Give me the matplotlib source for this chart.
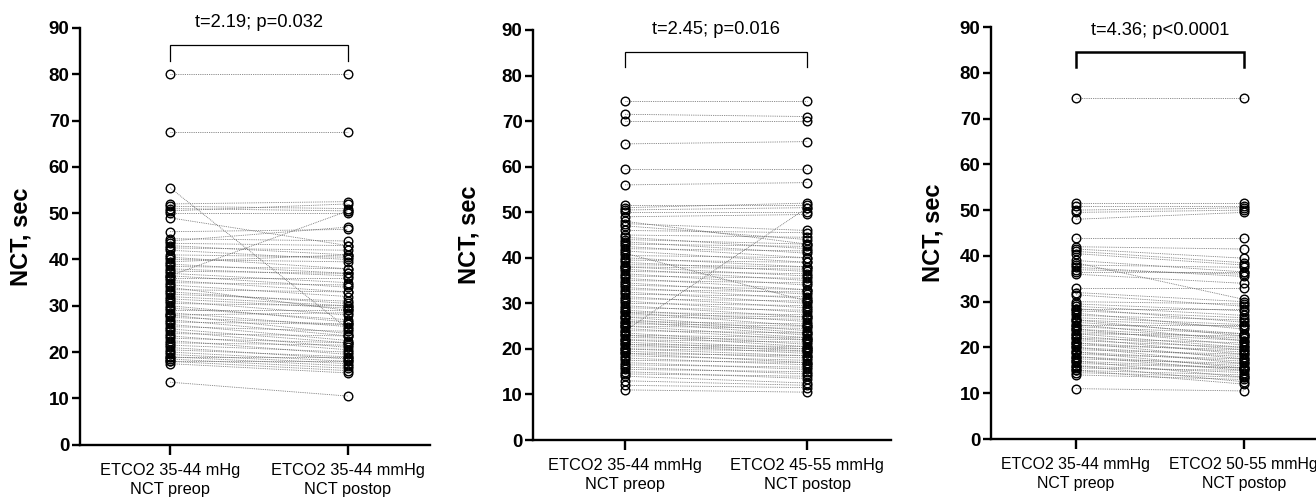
import numpy as np
import matplotlib
matplotlib.use("Agg")
import matplotlib.pyplot as plt

plt.rcParams['font.family'] = ['Liberation Sans', 'DejaVu Sans']

# ---------------- data ----------------
labels1 = ["ETCO2 35-44 mHg\nNCT preop", "ETCO2 35-44 mmHg\nNCT postop"]
labels2 = ["ETCO2 35-44 mmHg\nNCT preop", "ETCO2 45-55 mmHg\nNCT postop"]
labels3 = ["ETCO2 35-44 mmHg\nNCT preop", "ETCO2 50-55 mmHg\nNCT postop"]
titles = ["t=2.19; p=0.032", "t=2.45; p=0.016", "t=4.36; p<0.0001"]

pre1 = [80, 67.5, 55.5, 52, 51.5, 51, 50.5, 50, 49, 46, 44.5, 44, 43.5, 43, 42.5, 42,
        41, 40.5, 40, 39.5, 39, 38.5, 38, 37.5, 37, 36.5, 36.5, 36, 35.5, 35, 34.5, 34,
        33.5, 33, 32.5, 32, 31.5, 31, 30.5, 30, 29.5, 29, 28.5, 28, 28, 27.5, 27, 26.5,
        26, 25.5, 25, 24.5, 24, 23.5, 23, 22.5, 22, 21.5, 21, 20.5, 20, 19.5, 19, 19,
        18.5, 18, 18, 17.5, 13.5]
post1 = [80, 67.5, 25, 52.5, 51, 50.5, 52, 50, 43, 46.5, 44, 47, 43, 41, 42, 40,
         40.5, 38, 39.5, 41, 37, 38, 36.5, 37, 35, 50.5, 34, 36, 33, 34.5, 32, 29,
         33, 30.5, 31, 30, 29.5, 28, 30, 26.5, 27, 29, 25.5, 28.5, 24, 26, 23.5, 26,
         22.5, 24.5, 22, 21, 23.5, 20.5, 22, 19.5, 21.5, 20, 18.5, 19, 18, 17.5, 19, 17,
         16.5, 18, 16, 15.5, 10.5]

pre2 = [74.5, 71.5, 70, 65, 59.5, 56, 51.5, 51, 50.5, 50, 49, 48, 47.5, 47, 46, 45,
        44.5, 44, 43.5, 43, 42.5, 42, 41.5, 41, 40.5, 40, 39.5, 39, 38.5, 38, 38, 37.5,
        37, 36.5, 36, 35.5, 35, 34.5, 34, 33.5, 33, 32.5, 32, 31.5, 31, 30.5, 30, 29.5,
        29, 28.5, 28, 28, 27.5, 27, 27, 26.5, 26, 26, 25.5, 25, 25, 24.5, 24, 24,
        23.5, 23, 23, 22.5, 22, 22, 21.5, 21, 21, 20.5, 20, 20, 19.5, 19, 19, 18.5,
        18, 17.5, 17, 16.5, 16, 15.5, 15, 14.5, 14, 13, 12, 11]
post2 = [74.5, 71, 70, 65.5, 59.5, 56.5, 51.5, 52, 51, 50, 49.5, 43, 46, 44, 45.5, 44.5,
         42, 43, 41, 42.5, 40, 41.5, 39, 30.5, 40, 38, 39, 37, 38, 36, 37.5, 35,
         36.5, 34, 35.5, 33, 34.5, 32, 33, 31, 32.5, 30, 31.5, 29, 30.5, 28, 29.5, 27,
         28.5, 26, 27.5, 25, 27, 24, 26.5, 23.5, 25.5, 23, 25, 22.5, 24.5, 22, 51, 23.5,
         21, 22.5, 20.5, 22, 20, 21.5, 19.5, 20.5, 19, 20, 18.5, 19.5, 18, 18.5, 17, 17.5,
         16.5, 17, 15.5, 16, 14.5, 15, 13.5, 14, 12.5, 12, 11.5, 10.5]

pre3 = [74.5, 51.5, 51, 50, 49.5, 48, 44, 42, 41.5, 41, 40.5, 39, 38.5, 38, 37.5, 37,
        36.5, 36, 33, 32, 31.5, 30, 29.5, 29, 28.5, 28.5, 28, 27.5, 27, 26.5, 26, 26,
        25.5, 25, 25, 24.5, 24, 24, 23.5, 23, 23, 22.5, 22, 22, 21.5, 21, 21, 20.5,
        20, 20, 19.5, 19, 19, 18.5, 18, 18, 17.5, 17, 17, 16.5, 16, 16, 15.5, 15,
        15, 14.5, 14, 11]
post3 = [74.5, 51.5, 51, 50.5, 50, 49.5, 44, 41.5, 39.5, 38.5, 38, 36.5, 30.5, 37.5, 35.5, 36,
         36.5, 34, 33, 30, 29, 29.5, 28, 27, 28.5, 25.5, 26.5, 24, 26, 25, 24.5, 22.5,
         23, 25, 21.5, 23, 20.5, 22, 21.5, 20, 22.5, 19.5, 21, 18.5, 20, 19, 17.5, 19.5,
         18, 16.5, 18.5, 17, 15.5, 17.5, 16, 15, 16.5, 15.5, 13.5, 15.5, 14.5, 12.5, 15, 14,
         12, 13.5, 13, 10.5]

yticks = list(range(0, 91, 10))

# ---------------- layout ----------------
W, H = 1316, 498
fig = plt.figure(figsize=(W / 100, H / 100), dpi=100)

panels = [
    dict(l=80, r=430, t=28, b=444.7, xlim=(-0.506, 1.461), bar=86.3, leg=82.9, ty=91.2,
         blw=0.9, lab=-0.137, pre=pre1, post=post1, xl=labels1, title=titles[0], xfs=11.8),
    dict(l=533, r=891, t=30, b=440, xlim=(-0.505, 1.46), bar=85.1, leg=81.8, ty=90.0,
         blw=0.9, lab=-0.148, pre=pre2, post=post2, xl=labels2, title=titles[1], xfs=11.8),
    dict(l=991, r=1316, t=27, b=439, xlim=(-0.506, 1.43), bar=84.5, leg=81.2, ty=89.3,
         blw=1.8, lab=-0.142, pre=pre3, post=post3, xl=labels3, title=titles[2], xfs=11.4),
]

for p in panels:
    ax = fig.add_axes([p['l'] / W, 1 - p['b'] / H, (p['r'] - p['l']) / W, (p['b'] - p['t']) / H])
    pre = np.asarray(p['pre'], float)
    post = np.asarray(p['post'], float)
    xs = np.array([0, 1])
    ax.plot(xs, np.vstack([pre, post]), color='0.4', lw=0.6,
            linestyle=(0, (1.0, 1.2)), zorder=2)
    ax.plot(np.zeros_like(pre), pre, 'o', ms=6.2, mfc='none', mec='black', mew=1.0, zorder=3)
    ax.plot(np.ones_like(post), post, 'o', ms=6.2, mfc='none', mec='black', mew=1.0, zorder=3)

    ax.set_xlim(*p['xlim'])
    ax.set_ylim(0, 90)
    ax.set_yticks(yticks)
    ax.set_yticklabels([str(v) for v in yticks], fontsize=13.5, fontweight='bold')
    ax.set_xticks([0, 1])
    ax.set_xticklabels(p['xl'], fontsize=p['xfs'], linespacing=1.35)
    ax.spines['top'].set_visible(False)
    ax.spines['right'].set_visible(False)
    for s in ('left', 'bottom'):
        ax.spines[s].set_linewidth(1.7)
    ax.tick_params(axis='y', length=6, width=1.7, pad=1.5)
    ax.tick_params(axis='x', length=7, width=1.7, pad=6)
    ax.set_ylabel("NCT, sec", fontsize=17, fontweight='bold')
    ax.yaxis.set_label_coords(p['lab'], 0.5)

    # bracket and statistics
    ax.plot([0, 0, 1, 1], [p['leg'], p['bar'], p['bar'], p['leg']], color='black',
            lw=p['blw'], clip_on=False, solid_joinstyle='miter')
    ax.text(0.5, p['ty'], p['title'], ha='center', va='center', fontsize=13.2, clip_on=False)

fig.savefig("out.png", dpi=100)
